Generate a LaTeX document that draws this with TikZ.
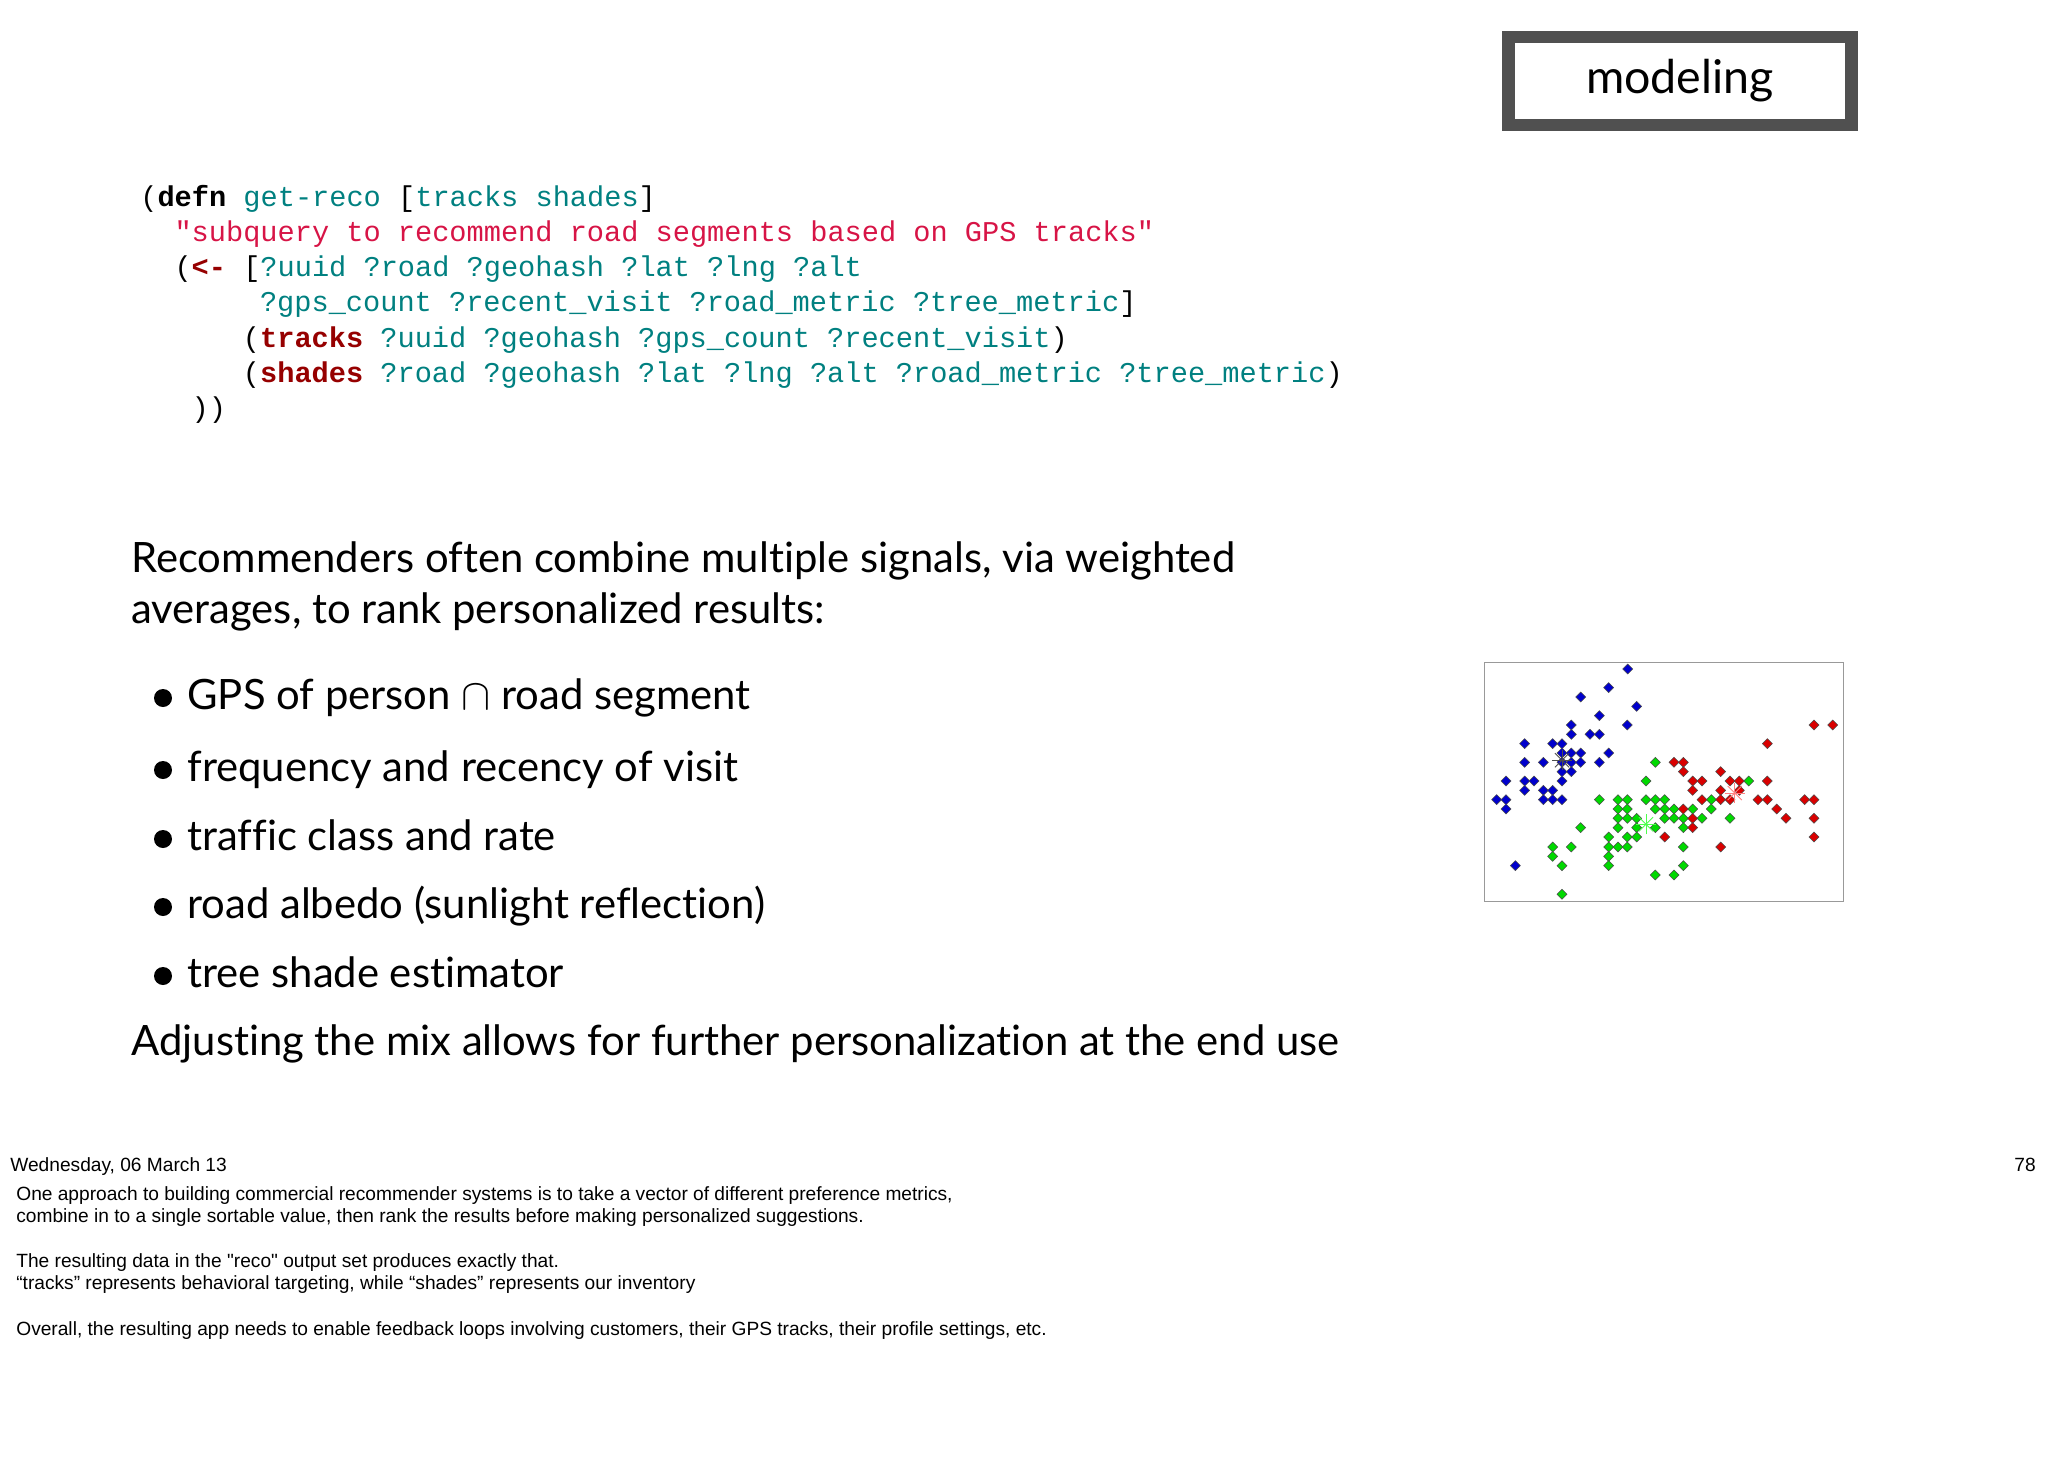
\documentclass[tikz,border=0pt]{standalone}
\usepackage{fontspec}
\setmainfont{Lato}[Ligatures=NoCommon]
\newfontfamily\codefont{Liberation Mono}
\newfontfamily\notefont{Liberation Sans}
\usetikzlibrary{positioning}
\definecolor{codeteal}{RGB}{0,128,128}
\definecolor{codestr}{RGB}{215,20,70}
\definecolor{codekey}{RGB}{150,0,0}
\definecolor{boxgray}{RGB}{80,80,80}
\tikzset{
  codeline/.style={anchor=base west, inner sep=0pt,
    font=\codefont\fontsize{16.3}{18}\selectfont},
  bodyline/.style={anchor=base west, inner sep=0pt,
    font=\fontsize{23.8}{28}\selectfont},
  noteline/.style={anchor=base west, inner sep=0pt,
    font=\notefont\fontsize{10.9}{12}\selectfont},
  blip/.style={draw=black!70, line width=0.3pt},
}
\newcommand{\tl}[1]{\textcolor{codeteal}{#1}}
\newcommand{\kw}[1]{\textcolor{codekey}{\bfseries #1}}
\newcommand{\blip}[2]{\fill[#1, blip] #2 ++(0,-15) -- ++(15,15) -- ++(-15,15) -- ++(-15,-15) -- cycle;}
\begin{document}
\begin{tikzpicture}[x=0.02cm, y=-0.02cm]
  \useasboundingbox (0,0) rectangle (2048,1475);
  % title box
  \node[draw=boxgray, line width=13*0.567pt, minimum width=343*0.02cm,
    minimum height=88*0.02cm, fill=white,
    font=\fontsize{26.5}{30}\selectfont] (title) at (1680,81) {modeling};
  % code block
  \node[codeline] (c1) at (140,206) {(\textbf{defn} \tl{get-reco} [\tl{tracks shades}]};
  \node[codeline] (c2) at (174.2,241.3) {\textcolor{codestr}{"subquery to recommend road segments based on GPS tracks"}};
  \node[codeline] (c3) at (174.2,276.6) {(\kw{<-} [\tl{?uuid ?road ?geohash ?lat ?lng ?alt}};
  \node[codeline] (c4) at (259.7,311.9) {\tl{?gps\_count ?recent\_visit ?road\_metric ?tree\_metric}]};
  \node[codeline] (c5) at (242.6,347.2) {(\kw{tracks} \tl{?uuid ?geohash ?gps\_count ?recent\_visit})};
  \node[codeline] (c6) at (242.6,382.5) {(\kw{shades} \tl{?road ?geohash ?lat ?lng ?alt ?road\_metric ?tree\_metric})};
  \node[codeline] (c7) at (191.3,417.8) {))};
  % body text
  \node[bodyline] (intro1) at (131,572) {Recommenders often combine multiple signals, via weighted};
  \node[bodyline] (intro2) at (131,623) {averages, to rank personalized results:};
  \foreach \yy/\txt [count=\i] in {709/{GPS of person $\cap$ road segment},
      781/frequency and recency of visit, 850/traffic class and rate,
      918/road albedo (sunlight reflection), 987/tree shade estimator} {
    \fill (163,\yy-11) circle (9);
    \node[bodyline] (item\i) at (187,\yy) {\txt};
  }
  \node[bodyline] (outro) at (131,1055) {Adjusting the mix allows for further personalization at the end use};
  % scatter plot
  \begin{scope}[shift={(1480,655)}, scale=1/3]
    \draw[black!40, line width=0.8pt] (14,22) rectangle (1090,740);
    \foreach \p in {(443,42),(386,98),(302,126),(470,154),(358,182),(274,210),(442,210),
        (274,238),(330,238),(358,238),(134,266),(218,266),(246,266),(246,294),(274,294),
        (302,294),(386,294),(134,322),(190,322),(246,322),(274,322),(302,322),(358,322),
        (246,350),(274,350),(78,378),(134,378),(162,378),(246,378),(134,406),(190,406),
        (218,406),(50,434),(78,434),(190,434),(218,434),(246,434),(78,462),(106,632)}
      {\blip{blue!80!black}{\p}}
    \foreach \p in {(526,322),(498,378),(806,378),(358,434),(414,434),(442,434),(498,434),
        (526,434),(554,434),(694,434),(414,462),(442,462),(526,462),(554,462),(582,462),
        (638,462),(694,462),(414,490),(442,490),(470,490),(554,490),(582,490),(610,490),
        (666,490),(750,490),(302,518),(414,518),(470,518),(526,518),(610,518),(386,546),
        (442,546),(470,546),(218,576),(274,576),(386,576),(414,576),(442,576),(610,576),
        (218,604),(386,604),(246,632),(386,632),(610,632),(526,660),(582,660),(246,718)}
      {\blip{green!85!black}{\p}}
    \foreach \p in {(1002,210),(1058,210),(862,266),(582,322),(610,322),(610,350),(722,350),
        (638,378),(666,378),(750,378),(778,378),(862,378),(638,406),(722,406),(778,406),
        (666,434),(722,434),(750,434),(834,434),(862,434),(974,434),(1002,434),(610,462),
        (890,462),(638,490),(918,490),(1002,490),(638,518),(554,546),(722,576),(1002,546)}
      {\blip{red!85!black}{\p}}
    \foreach \c/\col in {{(246,316)}/black!70, {(498,508)}/green!70, {(764,414)}/red!50}
      \foreach \a in {0,45,...,135}
        \draw[\col, line width=0.5pt] \c ++(\a:30) -- ++(\a+180:60);
  \end{scope}
  % footer and notes
  \node[noteline] (date) at (10,1171) {Wednesday, 06 March 13};
  \node[noteline, anchor=base east] (page) at (2036,1171) {78};
  \node[noteline] (n1) at (16,1200) {One approach to building commercial recommender systems is to take a vector of different preference metrics,};
  \node[noteline] (n2) at (16,1222) {combine in to a single sortable value, then rank the results before making personalized suggestions.};
  \node[noteline] (n3) at (16,1267) {The resulting data in the "reco" output set produces exactly that.};
  \node[noteline] (n4) at (16,1289) {“tracks” represents behavioral targeting, while “shades” represents our inventory};
  \node[noteline] (n5) at (16,1335) {Overall, the resulting app needs to enable feedback loops involving customers, their GPS tracks, their profile settings, etc.};
\end{tikzpicture}
\end{document}
